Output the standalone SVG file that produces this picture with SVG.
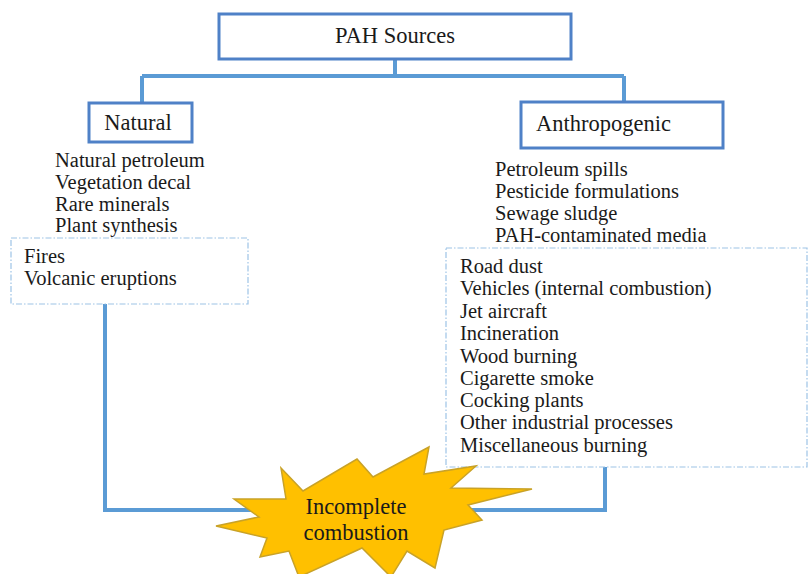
<svg xmlns="http://www.w3.org/2000/svg" width="809" height="574" viewBox="0 0 809 574" font-family="'Liberation Serif', 'Times New Roman', 'DejaVu Serif', serif">
<style>
.box{fill:#fff;stroke:#4f81c7;stroke-width:3}
.dash{fill:#fff;stroke:#9dc3e6;stroke-width:1.2;stroke-dasharray:6 2 1.5 2}
.conn{fill:none;stroke:#5b9bd5;stroke-width:4}
text{font-family:'Liberation Serif','Times New Roman','DejaVu Serif',serif;fill:#1a1a1a}
.lbl{font-size:22.5px}
.lst{font-size:20.5px}
</style>
<rect width="809" height="574" fill="#fff"/>
<g id="connectors">
<path class="conn" d="M395,59 V76 M142,76 H624 M142,76 V103 M624,76 V102"/>
<path class="conn" d="M105,304 V510 H605 V467"/>
</g>
<g id="pah-sources">
<rect class="box" x="219" y="14" width="352" height="45"/>
<text class="lbl" x="395" y="43" text-anchor="middle">PAH Sources</text>
</g>
<g id="natural">
<rect class="box" x="89" y="103" width="103" height="39"/>
<text class="lbl" x="138" y="130" text-anchor="middle">Natural</text>
</g>
<g id="natural-list">
<text class="lst" x="55" y="167">Natural petroleum</text>
<text class="lst" x="55" y="189">Vegetation decal</text>
<text class="lst" x="55" y="211">Rare minerals</text>
<text class="lst" x="55" y="232">Plant synthesis</text>
</g>
<g id="natural-combustion">
<rect class="dash" x="11" y="238" width="237" height="66"/>
<text class="lst" x="24" y="263">Fires</text>
<text class="lst" x="24" y="285">Volcanic eruptions</text>
</g>
<g id="anthropogenic">
<rect class="box" x="521" y="102" width="202" height="46"/>
<text class="lbl" x="536" y="131">Anthropogenic</text>
</g>
<g id="anthropogenic-list">
<text class="lst" x="495" y="176">Petroleum spills</text>
<text class="lst" x="495" y="197.5">Pesticide formulations</text>
<text class="lst" x="495" y="219.5">Sewage sludge</text>
<text class="lst" x="495" y="241.5">PAH-contaminated media</text>
</g>
<g id="anthropogenic-combustion">
<rect class="dash" x="446" y="248" width="361" height="219"/>
<text class="lst" x="460" y="273">Road dust</text>
<text class="lst" x="460" y="295">Vehicles (internal combustion)</text>
<text class="lst" x="460" y="317.5">Jet aircraft</text>
<text class="lst" x="460" y="340">Incineration</text>
<text class="lst" x="460" y="362.5">Wood burning</text>
<text class="lst" x="460" y="384.5">Cigarette smoke</text>
<text class="lst" x="460" y="407">Cocking plants</text>
<text class="lst" x="460" y="429">Other industrial processes</text>
<text class="lst" x="460" y="451.5">Miscellaneous burning</text>
</g>
<g id="incomplete-combustion">
<polygon points="281,468 303,491 357,459 373,477 429,447 424,474 476,466 451,488 532,489 468,505 482,520 444,530 435,568 407,551 391,577 362,548 299,577 289,551 260,557 267,538 216,526 259,517 234,499 286,499" fill="#ffc000" stroke="#c9a227" stroke-width="1.5" stroke-linejoin="miter"/>
<text class="lbl" x="356" y="514" text-anchor="middle">Incomplete</text>
<text class="lbl" x="356" y="540" text-anchor="middle">combustion</text>
</g>
</svg>
